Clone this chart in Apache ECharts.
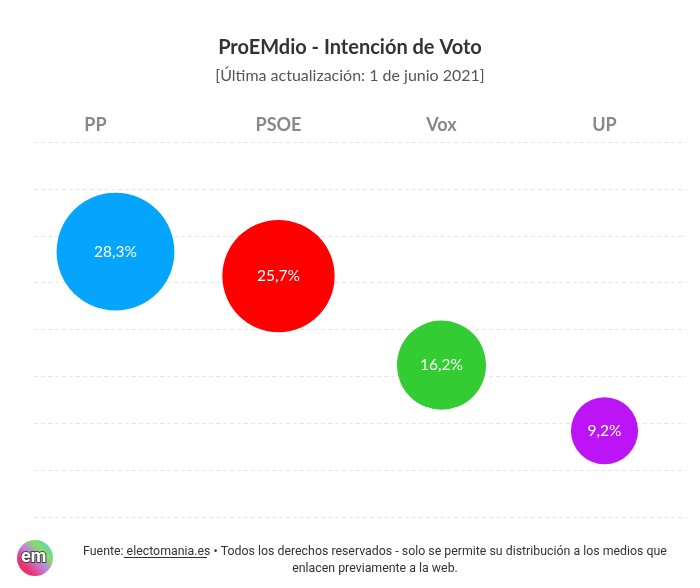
<!DOCTYPE html>
<html>
<head>
<meta charset="utf-8">
<script src="https://cdn.jsdelivr.net/npm/echarts@6/dist/echarts.min.js"></script>
<style>html,body{margin:0;padding:0;background:#fff;}#c{width:700px;height:588px;}</style>
</head>
<body>
<div id="c"></div>
<script>
var parties = ['PP', 'PSOE', 'Vox', 'UP'];
var votes = [28.3, 25.7, 16.2, 9.2];
var colors = ['#05a5fe', '#fe0000', '#33cc33', '#bc14f5'];
var yTicks = [0, 5, 10, 15, 20, 25, 30, 35, 40];

var chart = echarts.init(document.getElementById('c'));
var sansTitle = 'Lato, "Open Sans", sans-serif';
chart.setOption({
  backgroundColor: '#ffffff',
  animation: false,
  title: [{
    text: 'ProEMdio - Intención de Voto',
    left: 'center', top: 33,
    textStyle: { fontFamily: sansTitle, fontSize: 20, fontWeight: 'bold', color: '#333333' }
  }, {
    text: '[Última actualización: 1 de junio 2021]',
    left: 'center', top: 63,
    textStyle: { fontFamily: sansTitle, fontSize: 16, fontWeight: 'normal', color: '#555555' }
  }],
  grid: { left: 34, right: 14, top: 142, bottom: 71 },
  xAxis: {
    type: 'category', position: 'top', data: parties,
    axisLine: { show: false }, axisTick: { show: false },
    axisLabel: {
      margin: 8,
      fontFamily: sansTitle, fontSize: 18, fontWeight: 'bold', color: '#888888',
      formatter: function (v, i) { return i === 0 ? '{a|' + v + '}' : v; },
      rich: { a: { fontFamily: sansTitle, fontSize: 18, fontWeight: 'bold', color: '#888888', padding: [0, 40, 0, 0] } }
    },
    splitLine: { show: false }
  },
  yAxis: {
    type: 'value', min: yTicks[0], max: yTicks[yTicks.length - 1], interval: yTicks[1] - yTicks[0],
    axisLine: { show: false }, axisTick: { show: false }, axisLabel: { show: false },
    splitLine: { show: true, lineStyle: { color: '#e6e6e6', type: [4, 3], width: 1 } }
  },
  series: [{
    type: 'scatter',
    data: votes.map(function (v, i) { return { value: [i, v], itemStyle: { color: colors[i], opacity: 1 } }; }),
    symbolSize: function (val) { return 22.15 * Math.sqrt(val[1]); },
    label: {
      show: true, position: 'inside', color: '#ffffff',
      fontFamily: sansTitle, fontSize: 15.5,
      formatter: function (p) { return String(p.value[1]).replace('.', ',') + '%'; }
    },
    emphasis: { disabled: true }
  }],
  graphic: [{
    type: 'circle', shape: { cx: 35, cy: 558, r: 18 },
    style: {
      fill: {
        type: 'linear', x: 1, y: 0, x2: 0, y2: 1,
        colorStops: [
          { offset: 0, color: '#33ccee' },
          { offset: 0.3, color: '#88dd66' },
          { offset: 0.5, color: '#bb88dd' },
          { offset: 0.75, color: '#ee3377' },
          { offset: 1, color: '#dd3333' }
        ]
      }
    }
  }, {
    type: 'text', left: 20, top: 547,
    style: { text: 'em', fontFamily: 'Roboto, sans-serif', fontSize: 18, fontWeight: 'bold', fill: '#ffffff', stroke: '#444444', lineWidth: 2 }
  }, {
    type: 'text', x: 375, y: 552, scaleX: 0.915,
    style: {
      text: 'Fuente: electomania.es • Todos los derechos reservados - solo se permite su distribución a los medios que',
      fontFamily: 'Roboto, sans-serif', fontSize: 13.5, fill: '#333333', align: 'center', verticalAlign: 'middle'
    }
  }, {
    type: 'text', x: 375, y: 569, scaleX: 0.915,
    style: {
      text: 'enlacen previamente a la web.',
      fontFamily: 'Roboto, sans-serif', fontSize: 13.5, fill: '#333333', align: 'center', verticalAlign: 'middle'
    }
  }, {
    type: 'line', shape: { x1: 124, y1: 557.5, x2: 207, y2: 557.5 },
    style: { stroke: '#333333', lineWidth: 1 }
  }]
});
</script>
</body>
</html>
